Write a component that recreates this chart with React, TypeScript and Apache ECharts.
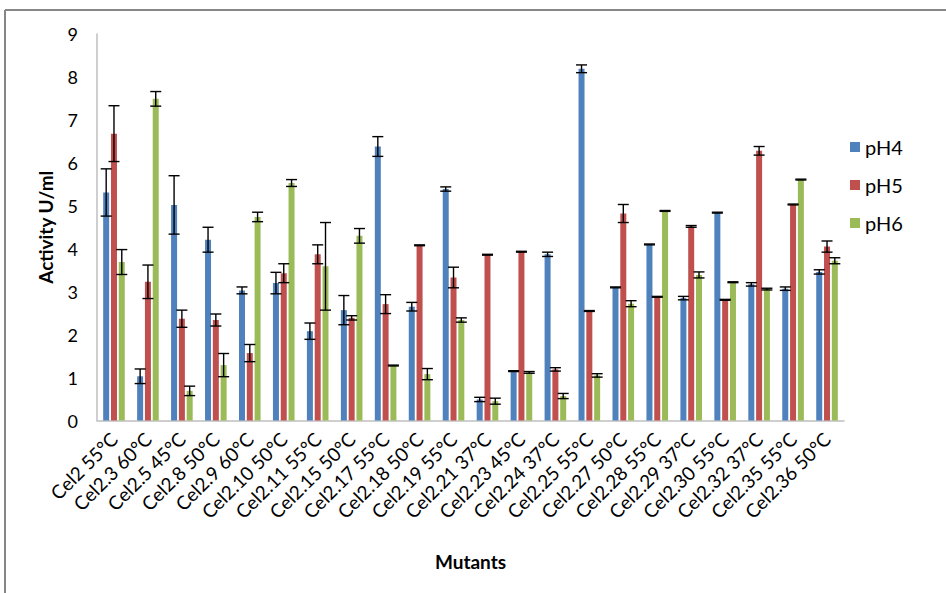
import React, { useEffect, useRef } from "react";
import * as echarts from "echarts";

const categories = ["Cel2 55°C","Cel2.3 60°C","Cel2.5 45°C","Cel2.8 50°C","Cel2.9 60°C","Cel2.10 50°C","Cel2.11 55°C","Cel2.15 50°C","Cel2.17 55°C","Cel2.18 50°C","Cel2.19 55°C","Cel2.21 37°C","Cel2.23 45°C","Cel2.24 37°C","Cel2.25 55°C","Cel2.27 50°C","Cel2.28 55°C","Cel2.29 37°C","Cel2.30 55°C","Cel2.32 37°C","Cel2.35 55°C","Cel2.36 50°C"];

const seriesNames = ["pH4", "pH5", "pH6"];

const pH4 = [5.31,1.03,5.02,4.21,3.03,3.20,2.08,2.57,6.38,2.65,5.39,0.49,1.15,3.87,8.19,3.10,4.10,2.85,4.84,3.17,3.07,3.46];
const pH4Err = [0.55,0.17,0.68,0.29,0.08,0.25,0.19,0.34,0.23,0.10,0.05,0.05,0.01,0.05,0.09,0.01,0.01,0.04,0.01,0.04,0.04,0.05];
const pH5 = [6.68,3.23,2.37,2.34,1.57,3.43,3.87,2.39,2.71,4.08,3.33,3.86,3.93,1.19,2.55,4.82,2.88,4.52,2.81,6.28,5.03,4.05];
const pH5Err = [0.65,0.39,0.20,0.14,0.20,0.22,0.22,0.05,0.22,0.01,0.24,0.01,0.01,0.04,0.01,0.21,0.01,0.02,0.01,0.10,0.01,0.13];
const pH6 = [3.69,7.49,0.69,1.29,4.74,5.53,3.59,4.30,1.28,1.08,2.34,0.45,1.12,0.57,1.05,2.72,4.88,3.39,3.22,3.06,5.61,3.72];
const pH6Err = [0.29,0.17,0.11,0.27,0.11,0.08,1.02,0.17,0.01,0.13,0.05,0.07,0.02,0.06,0.04,0.07,0.01,0.07,0.01,0.02,0.01,0.07];

const yTicks = [0, 1, 2, 3, 4, 5, 6, 7, 8, 9];

const colors = ["#4F81BD", "#C0504D", "#9BBB59"];
const FONT = "Lato, 'Open Sans', sans-serif";
const BAR_W = 6;
const BAR_GAP = 0.3;

export default function App() {
  const ref = useRef<HTMLDivElement>(null);
  useEffect(() => {
    if (!ref.current) return;
    const chart = echarts.init(ref.current, null, { renderer: "svg" });
    const values = [pH4, pH5, pH6];
    const errs = [pH4Err, pH5Err, pH6Err];
    const step = BAR_W * (1 + BAR_GAP);

    const barSeries = seriesNames.map((name, s) => ({
      name,
      type: "bar",
      data: values[s],
      barWidth: BAR_W,
      barGap: BAR_GAP * 100 + "%",
      itemStyle: { color: colors[s] },
      z: 2,
    }));

    const errSeries = seriesNames.map((name, s) => ({
      type: "custom",
      name: name + " err",
      z: 5,
      silent: true,
      data: categories.map((c, i) => [i, values[s][i], errs[s][i]]),
      encode: { x: 0, y: 1 },
      renderItem: (params: any, api: any) => {
        const idx = api.value(0);
        const v = api.value(1);
        const e = api.value(2);
        const top = api.coord([idx, v + e]);
        const bot = api.coord([idx, v - e]);
        const cx = top[0] + (s - 1) * step;
        const cap = 5.5;
        const st = { stroke: "#000", lineWidth: 1.4 };
        return {
          type: "group",
          children: [
            { type: "line", shape: { x1: cx, y1: top[1], x2: cx, y2: bot[1] }, style: st },
            { type: "line", shape: { x1: cx - cap, y1: top[1], x2: cx + cap, y2: top[1] }, style: st },
            { type: "line", shape: { x1: cx - cap, y1: bot[1], x2: cx + cap, y2: bot[1] }, style: st },
          ],
        };
      },
    }));

    chart.setOption({
      animation: false,
      backgroundColor: "#fff",
      textStyle: { fontFamily: FONT },
      grid: { left: 97, top: 34, width: 747, height: 386.5 },
      legend: {
        data: seriesNames,
        orient: "vertical",
        left: 845,
        top: 132,
        itemWidth: 10,
        itemHeight: 10,
        itemGap: 18,
        icon: "rect",
        textStyle: { fontSize: 20, color: "#000", fontFamily: FONT, lineHeight: 20 },
      },
      xAxis: {
        type: "category",
        data: categories,
        name: "Mutants",
        nameLocation: "middle",
        nameGap: 131,
        nameTextStyle: { fontSize: 19, fontWeight: "bold", color: "#000", fontFamily: FONT },
        axisLine: { lineStyle: { color: "#BFBFBF", width: 1.5 } },
        axisTick: { show: false },
        axisLabel: { rotate: 45, fontSize: 19, color: "#000", margin: 15, interval: 0, fontFamily: FONT },
      },
      yAxis: {
        type: "value",
        min: yTicks[0],
        max: yTicks[yTicks.length - 1],
        interval: 1,
        name: "Activity U/ml",
        nameLocation: "middle",
        nameRotate: 90,
        nameGap: 42,
        nameTextStyle: { fontSize: 19, fontWeight: "bold", color: "#000", fontFamily: FONT },
        axisLine: { show: true, lineStyle: { color: "#BFBFBF", width: 1.5 } },
        axisTick: { show: false },
        splitLine: { show: false },
        axisLabel: { fontSize: 18, color: "#000", margin: 19, fontFamily: FONT },
      },
      graphic: [
        { type: "line", shape: { x1: 5, y1: 10, x2: 946, y2: 10 }, style: { stroke: "#868686", lineWidth: 2 } },
        { type: "line", shape: { x1: 5, y1: 10, x2: 5, y2: 593 }, style: { stroke: "#868686", lineWidth: 2 } },
      ],
      series: [...barSeries, ...errSeries],
    });
    return () => chart.dispose();
  }, []);
  return <div ref={ref} style={{ position: "fixed", left: 0, top: 0, width: 946, height: 593 }} />;
}
